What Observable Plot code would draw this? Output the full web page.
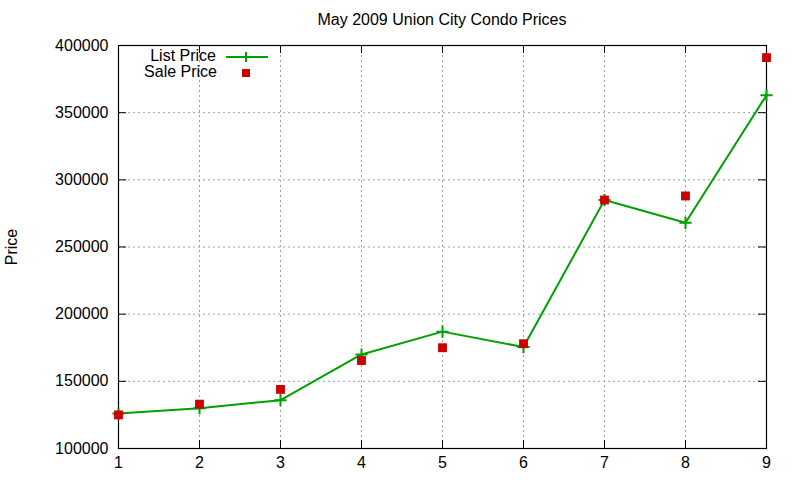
<!DOCTYPE html>
<html><head><meta charset="utf-8">
<script src="https://cdn.jsdelivr.net/npm/d3@7"></script>
<script src="https://cdn.jsdelivr.net/npm/@observablehq/plot@0.6"></script>
<style>
body{margin:0;background:#fff;font-family:"Liberation Sans",Arial,sans-serif;}
#wrap{position:relative;width:800px;height:480px;}
#title{position:absolute;left:0;width:884px;top:11px;text-align:center;font-size:16px;color:#000;}
#legend{position:absolute;left:100px;top:48px;font-size:16px;line-height:16px;}
.row{position:relative;height:16px;}
.lab{position:absolute;width:200px;text-align:right;}
</style></head>
<body>
<div id="wrap">
<div id="title">May 2009 Union City Condo Prices</div>
</div>
<script>
const months = [1,2,3,4,5,6,7,8,9];
const listPrice = [126000,130000,136000,170000,187000,175500,285000,268000,363000];
const salePrice = [125000,133000,144000,165500,175000,178000,285000,288000,391000];
const yTicks = [100000,150000,200000,250000,300000,350000,400000];
const xTicks = [1,2,3,4,5,6,7,8,9];
const seriesNames = ["List Price","Sale Price"];

const data = months.map((m,i)=>({x:m, list:listPrice[i], sale:salePrice[i]}));
const green = "#00a000", red = "#cc0000";
const W = 800, H = 480, mL = 118, mR = 34, mT = 45, mB = 32;
const pw = W - mL - mR, ph = H - mT - mB, tk = 8;

const chart = Plot.plot({
  width:W, height:H,
  marginLeft:mL, marginRight:mR, marginTop:mT, marginBottom:mB,
  style:{fontFamily:'"Liberation Sans",Arial,sans-serif', fontSize:"16px", color:"#000", background:"#fff"},
  x:{domain:[1,9]},
  y:{domain:[100000,400000]},
  marks:[
    Plot.gridX(xTicks,{stroke:"#a0a0a0", strokeOpacity:1, strokeDasharray:"2,3"}),
    Plot.gridY(yTicks,{stroke:"#a0a0a0", strokeOpacity:1, strokeDasharray:"2,3"}),
    Plot.tickX(xTicks,{x:d=>d, stroke:"#000", insetTop:ph-tk}),
    Plot.tickX(xTicks,{x:d=>d, stroke:"#000", insetBottom:ph-tk}),
    Plot.tickY(yTicks,{y:d=>d, stroke:"#000", insetRight:pw-tk}),
    Plot.tickY(yTicks,{y:d=>d, stroke:"#000", insetLeft:pw-tk}),
    Plot.axisX(xTicks,{anchor:"bottom", tickSize:0, tickPadding:8, label:null, tickFormat:d=>String(d), fontSize:16}),
    Plot.axisY(yTicks,{anchor:"left", tickSize:0, tickPadding:10, tickFormat:d=>String(d), fontSize:16,
      label:"Price", labelAnchor:"center", labelArrow:"none", labelOffset:113}),
    Plot.frame({stroke:"#000", strokeWidth:1.2}),
    Plot.line(data,{x:"x", y:"list", stroke:green, strokeWidth:2}),
    Plot.dot(data,{x:"x", y:"list", symbol:"plus", stroke:green, strokeWidth:2, r:4}),
    Plot.dot(data,{x:"x", y:"sale", symbol:"square", fill:red, stroke:null, r:5})
  ]
});
const wrap = document.getElementById("wrap");
wrap.insertBefore(chart, wrap.firstChild);

const leg = document.createElement("div");
leg.id = "legend";
leg.innerHTML = `
<div class="row"><span class="lab" style="left:-84px">${seriesNames[0]}</span>
<svg style="position:absolute;left:125px;top:0" width="44" height="16"><line x1="1" x2="43" y1="9" y2="9" stroke="${green}" stroke-width="2"/><line x1="21" x2="21" y1="4" y2="14" stroke="${green}" stroke-width="2"/></svg></div>
<div class="row"><span class="lab" style="left:-83px">${seriesNames[1]}</span>
<svg style="position:absolute;left:125px;top:0" width="44" height="16"><rect x="17" y="5" width="8" height="8" fill="${red}"/></svg></div>`;
wrap.appendChild(leg);
</script>
</body></html>
